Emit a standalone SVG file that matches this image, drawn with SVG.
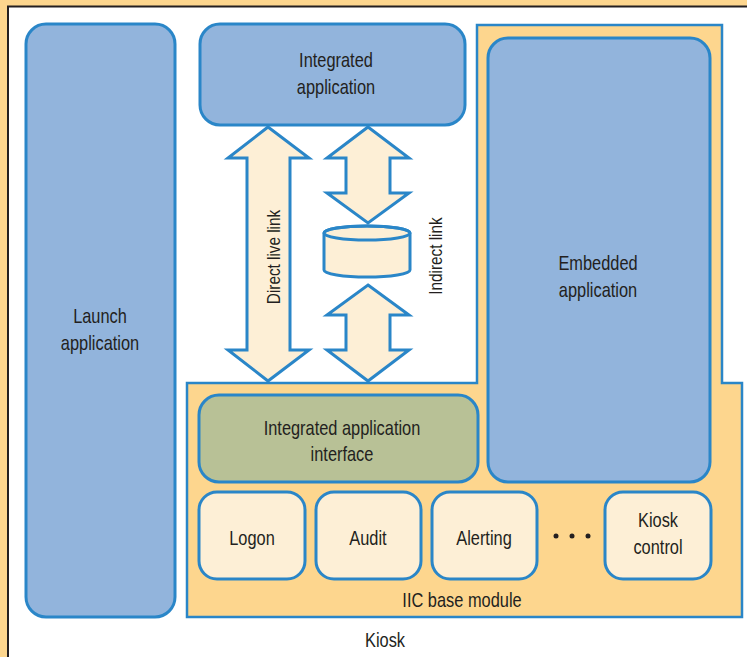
<svg xmlns="http://www.w3.org/2000/svg" width="747" height="657" viewBox="0 0 747 657">
<style>
.t{font-family:"Liberation Sans Narrow","Liberation Sans",Arial,sans-serif;font-size:20px;fill:#231F20;text-anchor:middle}
.r{font-size:18px}
.blue{fill:#92B4DC;stroke:#2A86C8;stroke-width:3}
.cream{fill:#FDEFD6;stroke:#2A86C8;stroke-width:3}
.arrow{fill:#FDEFD6;stroke:#2A86C8;stroke-width:3;stroke-linejoin:miter}
</style>
<rect x="0" y="0" width="747" height="657" fill="#FDD68E"/>
<rect x="8" y="6.5" width="760" height="680" fill="#FFFFFF" stroke="#231F20" stroke-width="2"/>
<g id="iic-base-module">
<path d="M477,25 H722 V383 H742 V617 H187 V383 H477 Z" fill="#FDD68E" stroke="#2A86C8" stroke-width="2.5"/>
<text class="t" transform="translate(462 607) scale(0.82 1)">IIC base module</text>
</g>
<g id="launch-application">
<rect class="blue" x="26" y="24" width="149" height="593" rx="20"/>
<text class="t" transform="translate(100 323) scale(0.82 1)">Launch</text>
<text class="t" transform="translate(100 350) scale(0.82 1)">application</text>
</g>
<g id="integrated-application">
<rect class="blue" x="200" y="24" width="265" height="101" rx="20"/>
<text class="t" transform="translate(336 67) scale(0.82 1)">Integrated</text>
<text class="t" transform="translate(336 94) scale(0.82 1)">application</text>
</g>
<g id="embedded-application">
<rect class="blue" x="488" y="38" width="222" height="444" rx="20"/>
<text class="t" transform="translate(598 270) scale(0.82 1)">Embedded</text>
<text class="t" transform="translate(598 297) scale(0.82 1)">application</text>
</g>
<g id="integrated-application-interface">
<rect x="199" y="395" width="279" height="87" rx="20" fill="#B8C196" stroke="#2A86C8" stroke-width="3"/>
<text class="t" transform="translate(342 435) scale(0.82 1)">Integrated application</text>
<text class="t" transform="translate(342 461) scale(0.82 1)">interface</text>
</g>
<g id="logon">
<rect class="cream" x="199" y="492" width="106" height="87" rx="18"/>
<text class="t" transform="translate(252 545) scale(0.82 1)">Logon</text>
</g>
<g id="audit">
<rect class="cream" x="316" y="492" width="105" height="87" rx="18"/>
<text class="t" transform="translate(368 545) scale(0.82 1)">Audit</text>
</g>
<g id="alerting">
<rect class="cream" x="432" y="492" width="105" height="87" rx="18"/>
<text class="t" transform="translate(484 545) scale(0.82 1)">Alerting</text>
</g>
<g id="ellipsis">
<circle cx="556" cy="536" r="2.5" fill="#231F20"/>
<circle cx="572" cy="536" r="2.5" fill="#231F20"/>
<circle cx="588" cy="536" r="2.5" fill="#231F20"/>
</g>
<g id="kiosk-control">
<rect class="cream" x="605" y="492" width="106" height="87" rx="18"/>
<text class="t" transform="translate(658 527) scale(0.82 1)">Kiosk</text>
<text class="t" transform="translate(658 554) scale(0.82 1)">control</text>
</g>
<g id="database">
<path class="arrow" d="M324,233 V270 A43,7 0 0 0 410,270 V233 A43,7 0 0 0 324,233 Z"/>
<ellipse cx="367" cy="233" rx="43" ry="7" fill="none" stroke="#2A86C8" stroke-width="3"/>
</g>
<g id="connectors">
<path class="arrow" d="M268,127 L309,158 H290 V350 H309 L268,381 L228,350 H247 V158 H228 Z"/>
<path class="arrow" d="M368,127 L409,158 H390 V193 H409 L368,223 L327,193 H346 V158 H327 Z"/>
<path class="arrow" d="M368,285 L409,315 H390 V350 H409 L368,381 L327,350 H346 V315 H327 Z"/>
<text class="t r" transform="translate(280 257) rotate(-90) scale(0.85 1)">Direct live link</text>
<text class="t r" transform="translate(442 256) rotate(-90) scale(0.85 1)">Indirect link</text>
</g>
<text class="t" transform="translate(385 647) scale(0.82 1)">Kiosk</text>
</svg>
